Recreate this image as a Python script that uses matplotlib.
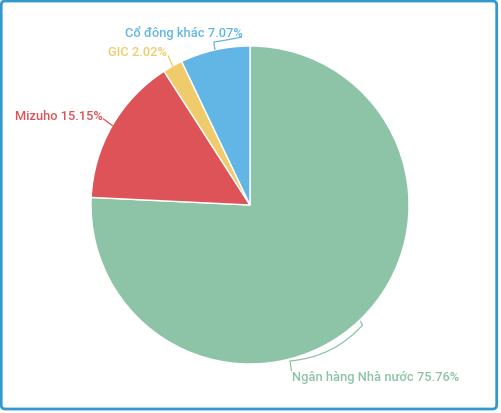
import numpy as np
import matplotlib.pyplot as plt
from matplotlib.patches import FancyBboxPatch, PathPatch
from matplotlib.path import Path

# data
labels = ['Ngân hàng Nhà nước', 'Mizuho', 'GIC', 'Cổ đông khác']
values = [75.76, 15.15, 2.02, 7.07]
colors = ['#8dc3a7', '#dd5357', '#f0cb6b', '#62b6e5']

W, H = 501, 414
fig = plt.figure(figsize=(W / 100, H / 100), dpi=100)
ax = fig.add_axes([0, 0, 1, 1])

cx, cy, r = 250, H - 206, 159
wedges, _ = ax.pie(values, colors=colors, startangle=90, counterclock=False,
                   center=(cx, cy), radius=r,
                   wedgeprops=dict(edgecolor='white', linewidth=1))
ax.set_xlim(0, W)
ax.set_ylim(0, H)
ax.set_aspect('equal')
ax.axis('off')


def edge_pt(w, rr=r):
    a = np.deg2rad((w.theta1 + w.theta2) / 2)
    return cx + rr * np.cos(a), cy + rr * np.sin(a)


def yy(y):
    return H - y


# label layout (pixel positions, y from top), alignment
label_pos = [(292, 378, 'left'), (103, 117, 'right'), (167, 53, 'right'), (243, 33, 'right')]

for w, lab, v, c, (tx, ty, ha) in zip(wedges, labels, values, colors, label_pos):
    ax.text(tx, yy(ty), f'{lab} {v:.2f}%', color=c, fontsize=9.3,
            family='Roboto', weight='medium', ha=ha, va='center')

# leader lines
lw = 0.9
# Ngan hang: curve along the pie edge
x0, y0 = edge_pt(wedges[0], r + 1)
verts = [(x0, y0), (362.5, yy(326)), (334, yy(358)), (290, yy(362)), (291.5, yy(372))]
codes = [Path.MOVETO, Path.LINETO, Path.CURVE3, Path.CURVE3, Path.LINETO]
ax.add_patch(PathPatch(Path(verts, codes), fill=False, edgecolor=colors[0], lw=lw))
# Mizuho
x0, y0 = edge_pt(wedges[1])
ax.plot([x0, 103.5], [y0, yy(120)], color=colors[1], lw=lw)
# GIC
x0, y0 = edge_pt(wedges[2])
ax.plot([x0, 168.3], [y0, yy(57)], color=colors[2], lw=lw)
# Co dong khac
x0, y0 = edge_pt(wedges[3])
verts = [(x0, y0), (213.8, yy(43)), (228, yy(41)), (242, yy(38))]
codes = [Path.MOVETO, Path.LINETO, Path.CURVE3, Path.CURVE3]
ax.add_patch(PathPatch(Path(verts, codes), fill=False, edgecolor=colors[3], lw=lw))

# outer rounded border
border = FancyBboxPatch((1.2, yy(410)), 495.5, 408, boxstyle='round,pad=0,rounding_size=4',
                        fill=False, edgecolor='#3399cc', lw=2.0, transform=ax.transData,
                        clip_on=False)
ax.add_patch(border)

fig.savefig('out.png', dpi=100)
